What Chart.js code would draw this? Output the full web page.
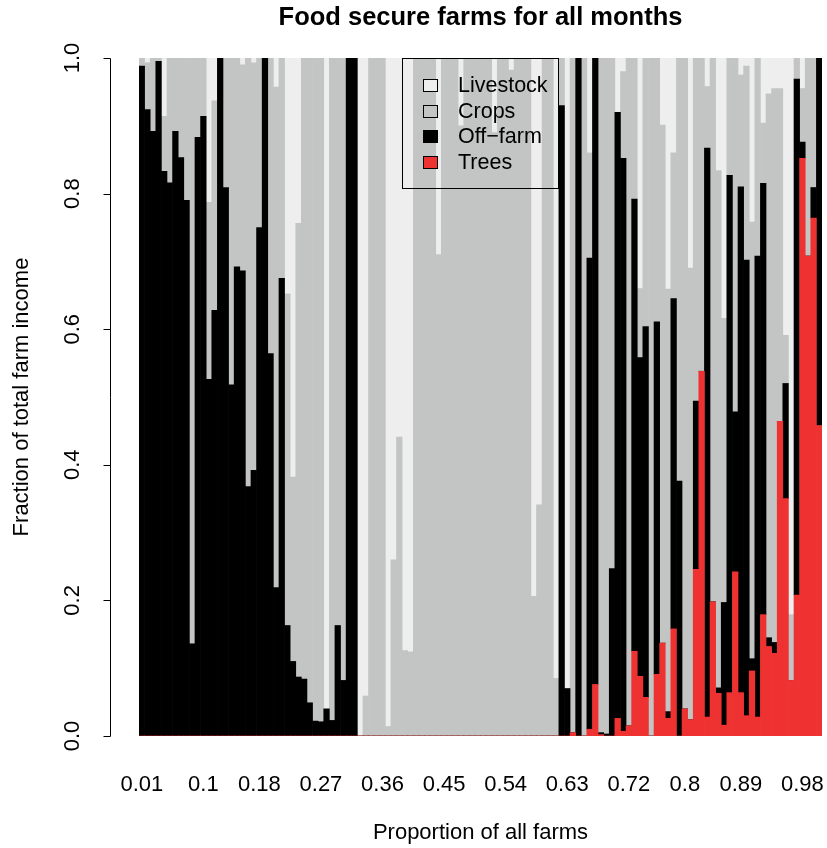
<!DOCTYPE html>
<html>
<head>
<meta charset="utf-8">
<script src="https://cdn.jsdelivr.net/npm/chart.js@4.4.0/dist/chart.umd.min.js"></script>
<style>
  html, body { margin: 0; padding: 0; background: #fff; }
  canvas { display: block; }
</style>
</head>
<body>
<canvas id="chart" width="827" height="848"></canvas>
<script>
// one bar per farm, sorted; fractions of total farm income
const trees = [
  0, 0, 0, 0, 0, 0, 0, 0, 0, 0,
  0, 0, 0, 0, 0, 0, 0, 0, 0, 0,
  0, 0, 0, 0, 0, 0, 0, 0, 0, 0,
  0, 0, 0, 0, 0, 0, 0, 0, 0, 0,
  0, 0, 0, 0, 0, 0, 0, 0, 0, 0,
  0, 0, 0, 0, 0, 0, 0, 0, 0, 0,
  0, 0, 0, 0, 0, 0, 0, 0, 0, 0,
  0, 0, 0, 0, 0, 0, 0, 0.005, 0, 0,
  0.010, 0.076, 0.002, 0, 0, 0.026, 0.007, 0.015, 0.125, 0.088,
  0.057, 0, 0.091, 0.137, 0.026, 0.158, 0, 0.040, 0.024, 0.246,
  0.538, 0.028, 0.198, 0.063, 0.016, 0.064, 0.242, 0.064, 0.030, 0.096,
  0.028, 0.179, 0.132, 0.122, 0.464, 0.350, 0.082, 0.208, 0.852, 0.708,
  0.764, 0.458
];
const offFarm = [
  0.988, 0.924, 0.892, 0.995, 0.833, 0.816, 0.892, 0.853, 0.790, 0.136,
  0.883, 0.914, 0.526, 0.628, 1.0, 0.809, 0.518, 0.692, 0.686, 0.368,
  0.392, 0.750, 1.0, 0.564, 0.219, 0.675, 0.163, 0.110, 0.087, 0.084,
  0.049, 0.022, 0.021, 0.040, 0.023, 0.163, 0.082, 1.0, 1.0, 0,
  0, 0, 0, 0, 0, 0, 0, 0, 0, 0,
  0, 0, 0, 0, 0, 0, 0, 0, 0, 0,
  0, 0, 0, 0, 0, 0, 0, 0, 0, 0,
  0, 0, 0, 0, 0, 0.930, 0.070, 0, 1.0, 0,
  0.695, 0.924, 0.003, 0.003, 0.247, 0.894, 0.845, 0, 0.667, 0.470,
  0.547, 0, 0.520, 0, 0.010, 0.487, 0.376, 0, 0, 0.248,
  0, 0.839, 0, 0.008, 0.181, 0.763, 0.236, 0.746, 0.672, 0.018,
  0.680, 0.636, 0.013, 0.016, 0, 0.170, 0, 0.761, 0.024, 0,
  0.045, 0.542
];
const crops = [
  0.012, 0.069, 0.108, 0.005, 0.081, 0.184, 0.108, 0.147, 0.210, 0.864,
  0.117, 0.086, 0.261, 0.309, 0, 0.191, 0.482, 0.308, 0.304, 0.632,
  0.601, 0.250, 0, 0.436, 0.738, 0.325, 0.489, 0.272, 0.669, 0.916,
  0.951, 0.978, 0.979, 0, 0.977, 0.837, 0.918, 0, 0, 0,
  0.059, 1, 1, 1, 0.014, 0.260, 0.441, 0.126, 0.124, 1,
  1, 1, 1, 0.710, 1, 1, 1, 0.900, 1, 1,
  1, 1, 1, 0.890, 1, 1, 0.982, 1, 1, 1,
  0.206, 0.341, 1, 1, 0.085, 0.070, 0, 0.995, 0, 1,
  0.155, 0, 0.995, 0.997, 0.753, 0, 0.128, 0.985, 0.208, 0.102,
  0.396, 1, 0.389, 0.764, 0.623, 0.215, 0.624, 0.960, 0.666, 0.506,
  0.462, 0.091, 0.802, 0.763, 0.419, 0.173, 0.522, 0.165, 0.286, 0.644,
  0.292, 0.089, 0.802, 0.817, 0.491, 0.071, 0.097, 0.031, 0.079, 0.292,
  0.191, 0
];
const livestock = [
  0, 0.007, 0, 0, 0.086, 0, 0, 0, 0, 0,
  0, 0, 0.213, 0.063, 0, 0, 0, 0, 0.010, 0,
  0.007, 0, 0, 0, 0.043, 0, 0.348, 0.618, 0.244, 0,
  0, 0, 0, 0.960, 0, 0, 0, 0, 0, 1.0,
  0.941, 0, 0, 0, 0.986, 0.740, 0.559, 0.874, 0.876, 0,
  0, 0, 0, 0.290, 0, 0, 0, 0.100, 0, 0,
  0, 0, 0, 0.110, 0, 0, 0.018, 0, 0, 0,
  0.794, 0.659, 0, 0, 0.915, 0, 0.930, 0, 0, 0,
  0.140, 0, 0, 0, 0, 0.080, 0.020, 0, 0, 0.340,
  0, 0, 0, 0.099, 0.341, 0.140, 0, 0, 0.310, 0,
  0, 0.042, 0, 0.166, 0.384, 0, 0, 0.025, 0.012, 0.242,
  0, 0.096, 0.053, 0.045, 0.045, 0.409, 0.821, 0, 0.045, 0,
  0, 0
];

// which bars carry a label (R drops the ones that would overlap), and the text
const xTickBars = [1, 12, 22, 33, 44, 55, 66, 77, 88, 98, 108, 119];
const xTickLabels = ['0.01', '0.1', '0.18', '0.27', '0.36', '0.45', '0.54', '0.63', '0.72', '0.8', '0.89', '0.98'];
const yTicks = [0, 0.2, 0.4, 0.6, 0.8, 1.0];
const yTickLabels = ['0.0', '0.2', '0.4', '0.6', '0.8', '1.0'];

const seriesNames = ['Livestock', 'Crops', 'Off\u2212farm', 'Trees'];
const seriesColors = ['#eeeeee', '#c3c4c4', '#000000', '#ee3131'];

const FONT = "'Liberation Sans', Arial, Helvetica, sans-serif";
const farms = trees.map((_, i) => String(i + 1));

// R-style left axis, axis title and legend box
const rDecor = {
    id: 'rDecor',
    afterDraw(chart) {
        const ctx = chart.ctx;
        const y = chart.scales.y;
        const axisX = 110.5;
        ctx.save();
        ctx.strokeStyle = '#000';
        ctx.lineWidth = 1;
        ctx.beginPath();
        ctx.moveTo(axisX, Math.round(y.getPixelForValue(0)) + 0.5);
        ctx.lineTo(axisX, Math.round(y.getPixelForValue(1)) + 0.5);
        yTicks.forEach((v) => {
            const py = Math.round(y.getPixelForValue(v)) + 0.5;
            ctx.moveTo(axisX, py);
            ctx.lineTo(axisX - 7, py);
        });
        ctx.stroke();

        ctx.fillStyle = '#000';
        ctx.font = '22px ' + FONT;
        ctx.textAlign = 'center';
        ctx.textBaseline = 'middle';
        yTicks.forEach((v, i) => {
            ctx.save();
            ctx.translate(73, y.getPixelForValue(v));
            ctx.rotate(-Math.PI / 2);
            ctx.fillText(yTickLabels[i], 0, 0);
            ctx.restore();
        });

        ctx.save();
        ctx.translate(22, (y.top + y.bottom) / 2);
        ctx.rotate(-Math.PI / 2);
        ctx.fillText('Fraction of total farm income', 0, 0);
        ctx.restore();

        // legend
        ctx.strokeRect(402.5, 58.5, 156, 130);
        ctx.font = '21.5px ' + FONT;
        ctx.textAlign = 'left';
        seriesNames.forEach((name, i) => {
            const cy = 85 + i * 25.6;
            ctx.fillStyle = seriesColors[i];
            ctx.fillRect(423.5, Math.round(cy - 6) + 0.5, 14, 12);
            ctx.strokeRect(423.5, Math.round(cy - 6) + 0.5, 14, 12);
            ctx.fillStyle = '#000';
            ctx.fillText(name, 458, cy + 1);
        });
        ctx.restore();
    }
};

const stacks = [trees, offFarm, crops, livestock];
const stackNames = ['Trees', 'Off\u2212farm', 'Crops', 'Livestock'];
const stackColors = ['#ee3131', '#000000', '#c3c4c4', '#eeeeee'];

new Chart(document.getElementById('chart'), {
    type: 'bar',
    data: {
        labels: farms,
        datasets: stacks.map((d, i) => ({
            label: stackNames[i],
            data: d,
            backgroundColor: stackColors[i],
            borderWidth: 0,
            barPercentage: 1,
            categoryPercentage: 1
        }))
    },
    options: {
        responsive: false,
        animation: false,
        devicePixelRatio: 1,
        layout: { padding: { left: 139, right: 5, top: 0, bottom: 0 } },
        plugins: {
            legend: { display: false },
            tooltip: { enabled: false },
            title: {
                display: true,
                text: 'Food secure farms for all months',
                color: '#000',
                font: { family: FONT, size: 25.5, weight: 'bold' },
                padding: { top: 3, bottom: 24.4 }
            }
        },
        scales: {
            x: {
                stacked: true,
                // tick marks hidden; tickLength only pushes the labels down
                grid: { display: false, drawTicks: true, tickLength: 36 },
                border: { display: false },
                ticks: {
                    autoSkip: false,
                    maxRotation: 0,
                    minRotation: 0,
                    padding: 0,
                    color: '#000',
                    font: { family: FONT, size: 22 },
                    callback: (v, i) => {
                        const k = xTickBars.indexOf(i + 1);
                        return k >= 0 ? xTickLabels[k] : '';
                    }
                },
                title: {
                    display: true,
                    text: 'Proportion of all farms',
                    color: '#000',
                    font: { family: FONT, size: 22 },
                    padding: { top: 0, bottom: 2 }
                },
                afterFit: (scale) => {
                    scale.height = 112;
                    scale.paddingLeft = 0;
                    scale.paddingRight = 0;
                }
            },
            y: {
                stacked: true,
                display: false,
                min: 0,
                max: 1
            }
        }
    },
    plugins: [rDecor]
});
</script>
</body>
</html>
